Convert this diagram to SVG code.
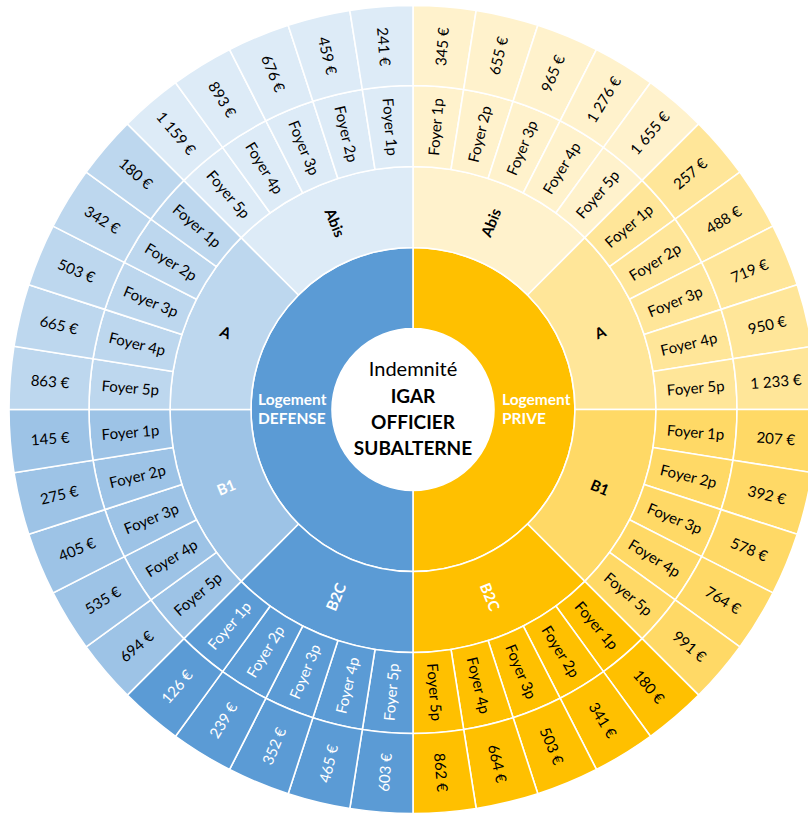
<svg xmlns="http://www.w3.org/2000/svg" xmlns:xlink="http://www.w3.org/1999/xlink" width="808" height="814" viewBox="0 0 808 814">
<style>
.s{stroke:#fff;stroke-width:1.6;stroke-linejoin:round}
.pa{fill:#FFF2CC}.pA{fill:#FFE699}.pB{fill:#FFD966}.pC{fill:#FFC000}
.da{fill:#DDEBF7}.dA{fill:#BDD7EE}.dB{fill:#9DC3E6}.dC{fill:#5B9BD5}
text{font-family:Lato,"Liberation Sans",sans-serif;font-size:15px;fill:#000;text-anchor:middle;dominant-baseline:central}
text.w{fill:#fff}
text.b{font-weight:bold}
text.r1{font-weight:bold;font-size:15.5px;fill:#fff;text-anchor:start;dominant-baseline:alphabetic}
text.c{font-size:20px;dominant-baseline:alphabetic}
text.cb{font-size:19px;font-weight:bold;dominant-baseline:alphabetic}
</style>
<defs>
<path id="half" d="M0,-162 A162,162 0 0 1 0,162 L0,81 A81,81 0 0 0 0,-81 Z"/>
<path id="cat" d="M0,-243 A243,243 0 0 1 171.827,-171.827 L114.551,-114.551 A162,162 0 0 0 0,-162 Z"/>
<path id="leaf" d="M0,-324 A324,324 0 0 1 50.685,-320.011 L38.013,-240.008 A243,243 0 0 0 0,-243 Z"/>
<path id="val" d="M0,-404 A404,404 0 0 1 63.199,-399.026 L50.685,-320.011 A324,324 0 0 0 0,-324 Z"/>
</defs>
<g transform="translate(413 409.5)">
<g id="center"><circle r="81" fill="#fff"/>
<text class="c" y="-33.5">Indemnité</text>
<text class="cb" y="-6.5">IGAR</text>
<text class="cb" y="19.5">OFFICIER</text>
<text class="cb" y="45.5">SUBALTERNE</text></g>
<g id="logement-prive"><use href="#half" class="s pC"/><text class="r1" x="89" y="-4.5">Logement</text><text class="r1" x="89" y="14.5">PRIVE</text></g>
<g id="logement-defense"><use href="#half" class="s dC" transform="rotate(180)"/><text class="r1" x="-155" y="-4.5">Logement</text><text class="r1" x="-155" y="14.5">DEFENSE</text></g>
<g id="prive-abis"><use href="#cat" class="s pa"/><text class="b" transform="rotate(22.5) translate(0 -202.5) rotate(-90)">Abis</text></g>
<g id="prive-a"><use href="#cat" class="s pA" transform="rotate(45)"/><text class="b" transform="rotate(67.5) translate(0 -202.5) rotate(-90)">A</text></g>
<g id="prive-b1"><use href="#cat" class="s pB" transform="rotate(90)"/><text class="b" transform="rotate(112.5) translate(0 -202.5) rotate(-90)">B1</text></g>
<g id="prive-b2c"><use href="#cat" class="s pC" transform="rotate(135)"/><text class="b w" transform="rotate(157.5) translate(0 -202.5) rotate(-90)">B2C</text></g>
<g id="defense-b2c"><use href="#cat" class="s dC" transform="rotate(180)"/><text class="b w" transform="rotate(202.5) translate(0 -202.5) rotate(90)">B2C</text></g>
<g id="defense-b1"><use href="#cat" class="s dB" transform="rotate(225)"/><text class="b w" transform="rotate(247.5) translate(0 -202.5) rotate(90)">B1</text></g>
<g id="defense-a"><use href="#cat" class="s dA" transform="rotate(270)"/><text class="b" transform="rotate(292.5) translate(0 -202.5) rotate(90)">A</text></g>
<g id="defense-abis"><use href="#cat" class="s da" transform="rotate(315)"/><text class="b" transform="rotate(337.5) translate(0 -202.5) rotate(90)">Abis</text></g>

<g id="prive-abis-1p"><use href="#leaf" class="s pa" transform="rotate(0)"/><text transform="rotate(4.5) translate(0 -283.5) rotate(-90)">Foyer 1p</text></g>
<g id="prive-abis-1p-v"><use href="#val" class="s pa" transform="rotate(0)"/><text transform="rotate(4.5) translate(0 -364) rotate(-90)">345 €</text></g>
<g id="prive-abis-2p"><use href="#leaf" class="s pa" transform="rotate(9)"/><text transform="rotate(13.5) translate(0 -283.5) rotate(-90)">Foyer 2p</text></g>
<g id="prive-abis-2p-v"><use href="#val" class="s pa" transform="rotate(9)"/><text transform="rotate(13.5) translate(0 -364) rotate(-90)">655 €</text></g>
<g id="prive-abis-3p"><use href="#leaf" class="s pa" transform="rotate(18)"/><text transform="rotate(22.5) translate(0 -283.5) rotate(-90)">Foyer 3p</text></g>
<g id="prive-abis-3p-v"><use href="#val" class="s pa" transform="rotate(18)"/><text transform="rotate(22.5) translate(0 -364) rotate(-90)">965 €</text></g>
<g id="prive-abis-4p"><use href="#leaf" class="s pa" transform="rotate(27)"/><text transform="rotate(31.5) translate(0 -283.5) rotate(-90)">Foyer 4p</text></g>
<g id="prive-abis-4p-v"><use href="#val" class="s pa" transform="rotate(27)"/><text transform="rotate(31.5) translate(0 -364) rotate(-90)">1 276 €</text></g>
<g id="prive-abis-5p"><use href="#leaf" class="s pa" transform="rotate(36)"/><text transform="rotate(40.5) translate(0 -283.5) rotate(-90)">Foyer 5p</text></g>
<g id="prive-abis-5p-v"><use href="#val" class="s pa" transform="rotate(36)"/><text transform="rotate(40.5) translate(0 -364) rotate(-90)">1 655 €</text></g>

<g id="prive-a-1p"><use href="#leaf" class="s pA" transform="rotate(45)"/><text transform="rotate(49.5) translate(0 -283.5) rotate(-90)">Foyer 1p</text></g>
<g id="prive-a-1p-v"><use href="#val" class="s pA" transform="rotate(45)"/><text transform="rotate(49.5) translate(0 -364) rotate(-90)">257 €</text></g>
<g id="prive-a-2p"><use href="#leaf" class="s pA" transform="rotate(54)"/><text transform="rotate(58.5) translate(0 -283.5) rotate(-90)">Foyer 2p</text></g>
<g id="prive-a-2p-v"><use href="#val" class="s pA" transform="rotate(54)"/><text transform="rotate(58.5) translate(0 -364) rotate(-90)">488 €</text></g>
<g id="prive-a-3p"><use href="#leaf" class="s pA" transform="rotate(63)"/><text transform="rotate(67.5) translate(0 -283.5) rotate(-90)">Foyer 3p</text></g>
<g id="prive-a-3p-v"><use href="#val" class="s pA" transform="rotate(63)"/><text transform="rotate(67.5) translate(0 -364) rotate(-90)">719 €</text></g>
<g id="prive-a-4p"><use href="#leaf" class="s pA" transform="rotate(72)"/><text transform="rotate(76.5) translate(0 -283.5) rotate(-90)">Foyer 4p</text></g>
<g id="prive-a-4p-v"><use href="#val" class="s pA" transform="rotate(72)"/><text transform="rotate(76.5) translate(0 -364) rotate(-90)">950 €</text></g>
<g id="prive-a-5p"><use href="#leaf" class="s pA" transform="rotate(81)"/><text transform="rotate(85.5) translate(0 -283.5) rotate(-90)">Foyer 5p</text></g>
<g id="prive-a-5p-v"><use href="#val" class="s pA" transform="rotate(81)"/><text transform="rotate(85.5) translate(0 -364) rotate(-90)">1 233 €</text></g>

<g id="prive-b1-1p"><use href="#leaf" class="s pB" transform="rotate(90)"/><text transform="rotate(94.5) translate(0 -283.5) rotate(-90)">Foyer 1p</text></g>
<g id="prive-b1-1p-v"><use href="#val" class="s pB" transform="rotate(90)"/><text transform="rotate(94.5) translate(0 -364) rotate(-90)">207 €</text></g>
<g id="prive-b1-2p"><use href="#leaf" class="s pB" transform="rotate(99)"/><text transform="rotate(103.5) translate(0 -283.5) rotate(-90)">Foyer 2p</text></g>
<g id="prive-b1-2p-v"><use href="#val" class="s pB" transform="rotate(99)"/><text transform="rotate(103.5) translate(0 -364) rotate(-90)">392 €</text></g>
<g id="prive-b1-3p"><use href="#leaf" class="s pB" transform="rotate(108)"/><text transform="rotate(112.5) translate(0 -283.5) rotate(-90)">Foyer 3p</text></g>
<g id="prive-b1-3p-v"><use href="#val" class="s pB" transform="rotate(108)"/><text transform="rotate(112.5) translate(0 -364) rotate(-90)">578 €</text></g>
<g id="prive-b1-4p"><use href="#leaf" class="s pB" transform="rotate(117)"/><text transform="rotate(121.5) translate(0 -283.5) rotate(-90)">Foyer 4p</text></g>
<g id="prive-b1-4p-v"><use href="#val" class="s pB" transform="rotate(117)"/><text transform="rotate(121.5) translate(0 -364) rotate(-90)">764 €</text></g>
<g id="prive-b1-5p"><use href="#leaf" class="s pB" transform="rotate(126)"/><text transform="rotate(130.5) translate(0 -283.5) rotate(-90)">Foyer 5p</text></g>
<g id="prive-b1-5p-v"><use href="#val" class="s pB" transform="rotate(126)"/><text transform="rotate(130.5) translate(0 -364) rotate(-90)">991 €</text></g>

<g id="prive-b2c-1p"><use href="#leaf" class="s pC" transform="rotate(135)"/><text transform="rotate(139.5) translate(0 -283.5) rotate(-90)">Foyer 1p</text></g>
<g id="prive-b2c-1p-v"><use href="#val" class="s pC" transform="rotate(135)"/><text transform="rotate(139.5) translate(0 -364) rotate(-90)">180 €</text></g>
<g id="prive-b2c-2p"><use href="#leaf" class="s pC" transform="rotate(144)"/><text transform="rotate(148.5) translate(0 -283.5) rotate(-90)">Foyer 2p</text></g>
<g id="prive-b2c-2p-v"><use href="#val" class="s pC" transform="rotate(144)"/><text transform="rotate(148.5) translate(0 -364) rotate(-90)">341 €</text></g>
<g id="prive-b2c-3p"><use href="#leaf" class="s pC" transform="rotate(153)"/><text transform="rotate(157.5) translate(0 -283.5) rotate(-90)">Foyer 3p</text></g>
<g id="prive-b2c-3p-v"><use href="#val" class="s pC" transform="rotate(153)"/><text transform="rotate(157.5) translate(0 -364) rotate(-90)">503 €</text></g>
<g id="prive-b2c-4p"><use href="#leaf" class="s pC" transform="rotate(162)"/><text transform="rotate(166.5) translate(0 -283.5) rotate(-90)">Foyer 4p</text></g>
<g id="prive-b2c-4p-v"><use href="#val" class="s pC" transform="rotate(162)"/><text transform="rotate(166.5) translate(0 -364) rotate(-90)">664 €</text></g>
<g id="prive-b2c-5p"><use href="#leaf" class="s pC" transform="rotate(171)"/><text transform="rotate(175.5) translate(0 -283.5) rotate(-90)">Foyer 5p</text></g>
<g id="prive-b2c-5p-v"><use href="#val" class="s pC" transform="rotate(171)"/><text transform="rotate(175.5) translate(0 -364) rotate(-90)">862 €</text></g>

<g id="defense-b2c-5p"><use href="#leaf" class="s dC" transform="rotate(180)"/><text class="w" transform="rotate(184.5) translate(0 -283.5) rotate(90)">Foyer 5p</text></g>
<g id="defense-b2c-5p-v"><use href="#val" class="s dC" transform="rotate(180)"/><text class="w" transform="rotate(184.5) translate(0 -364) rotate(90)">603 €</text></g>
<g id="defense-b2c-4p"><use href="#leaf" class="s dC" transform="rotate(189)"/><text class="w" transform="rotate(193.5) translate(0 -283.5) rotate(90)">Foyer 4p</text></g>
<g id="defense-b2c-4p-v"><use href="#val" class="s dC" transform="rotate(189)"/><text class="w" transform="rotate(193.5) translate(0 -364) rotate(90)">465 €</text></g>
<g id="defense-b2c-3p"><use href="#leaf" class="s dC" transform="rotate(198)"/><text class="w" transform="rotate(202.5) translate(0 -283.5) rotate(90)">Foyer 3p</text></g>
<g id="defense-b2c-3p-v"><use href="#val" class="s dC" transform="rotate(198)"/><text class="w" transform="rotate(202.5) translate(0 -364) rotate(90)">352 €</text></g>
<g id="defense-b2c-2p"><use href="#leaf" class="s dC" transform="rotate(207)"/><text class="w" transform="rotate(211.5) translate(0 -283.5) rotate(90)">Foyer 2p</text></g>
<g id="defense-b2c-2p-v"><use href="#val" class="s dC" transform="rotate(207)"/><text class="w" transform="rotate(211.5) translate(0 -364) rotate(90)">239 €</text></g>
<g id="defense-b2c-1p"><use href="#leaf" class="s dC" transform="rotate(216)"/><text class="w" transform="rotate(220.5) translate(0 -283.5) rotate(90)">Foyer 1p</text></g>
<g id="defense-b2c-1p-v"><use href="#val" class="s dC" transform="rotate(216)"/><text class="w" transform="rotate(220.5) translate(0 -364) rotate(90)">126 €</text></g>

<g id="defense-b1-5p"><use href="#leaf" class="s dB" transform="rotate(225)"/><text transform="rotate(229.5) translate(0 -283.5) rotate(90)">Foyer 5p</text></g>
<g id="defense-b1-5p-v"><use href="#val" class="s dB" transform="rotate(225)"/><text transform="rotate(229.5) translate(0 -364) rotate(90)">694 €</text></g>
<g id="defense-b1-4p"><use href="#leaf" class="s dB" transform="rotate(234)"/><text transform="rotate(238.5) translate(0 -283.5) rotate(90)">Foyer 4p</text></g>
<g id="defense-b1-4p-v"><use href="#val" class="s dB" transform="rotate(234)"/><text transform="rotate(238.5) translate(0 -364) rotate(90)">535 €</text></g>
<g id="defense-b1-3p"><use href="#leaf" class="s dB" transform="rotate(243)"/><text transform="rotate(247.5) translate(0 -283.5) rotate(90)">Foyer 3p</text></g>
<g id="defense-b1-3p-v"><use href="#val" class="s dB" transform="rotate(243)"/><text transform="rotate(247.5) translate(0 -364) rotate(90)">405 €</text></g>
<g id="defense-b1-2p"><use href="#leaf" class="s dB" transform="rotate(252)"/><text transform="rotate(256.5) translate(0 -283.5) rotate(90)">Foyer 2p</text></g>
<g id="defense-b1-2p-v"><use href="#val" class="s dB" transform="rotate(252)"/><text transform="rotate(256.5) translate(0 -364) rotate(90)">275 €</text></g>
<g id="defense-b1-1p"><use href="#leaf" class="s dB" transform="rotate(261)"/><text transform="rotate(265.5) translate(0 -283.5) rotate(90)">Foyer 1p</text></g>
<g id="defense-b1-1p-v"><use href="#val" class="s dB" transform="rotate(261)"/><text transform="rotate(265.5) translate(0 -364) rotate(90)">145 €</text></g>

<g id="defense-a-5p"><use href="#leaf" class="s dA" transform="rotate(270)"/><text transform="rotate(274.5) translate(0 -283.5) rotate(90)">Foyer 5p</text></g>
<g id="defense-a-5p-v"><use href="#val" class="s dA" transform="rotate(270)"/><text transform="rotate(274.5) translate(0 -364) rotate(90)">863 €</text></g>
<g id="defense-a-4p"><use href="#leaf" class="s dA" transform="rotate(279)"/><text transform="rotate(283.5) translate(0 -283.5) rotate(90)">Foyer 4p</text></g>
<g id="defense-a-4p-v"><use href="#val" class="s dA" transform="rotate(279)"/><text transform="rotate(283.5) translate(0 -364) rotate(90)">665 €</text></g>
<g id="defense-a-3p"><use href="#leaf" class="s dA" transform="rotate(288)"/><text transform="rotate(292.5) translate(0 -283.5) rotate(90)">Foyer 3p</text></g>
<g id="defense-a-3p-v"><use href="#val" class="s dA" transform="rotate(288)"/><text transform="rotate(292.5) translate(0 -364) rotate(90)">503 €</text></g>
<g id="defense-a-2p"><use href="#leaf" class="s dA" transform="rotate(297)"/><text transform="rotate(301.5) translate(0 -283.5) rotate(90)">Foyer 2p</text></g>
<g id="defense-a-2p-v"><use href="#val" class="s dA" transform="rotate(297)"/><text transform="rotate(301.5) translate(0 -364) rotate(90)">342 €</text></g>
<g id="defense-a-1p"><use href="#leaf" class="s dA" transform="rotate(306)"/><text transform="rotate(310.5) translate(0 -283.5) rotate(90)">Foyer 1p</text></g>
<g id="defense-a-1p-v"><use href="#val" class="s dA" transform="rotate(306)"/><text transform="rotate(310.5) translate(0 -364) rotate(90)">180 €</text></g>

<g id="defense-abis-5p"><use href="#leaf" class="s da" transform="rotate(315)"/><text transform="rotate(319.5) translate(0 -283.5) rotate(90)">Foyer 5p</text></g>
<g id="defense-abis-5p-v"><use href="#val" class="s da" transform="rotate(315)"/><text transform="rotate(319.5) translate(0 -364) rotate(90)">1 159 €</text></g>
<g id="defense-abis-4p"><use href="#leaf" class="s da" transform="rotate(324)"/><text transform="rotate(328.5) translate(0 -283.5) rotate(90)">Foyer 4p</text></g>
<g id="defense-abis-4p-v"><use href="#val" class="s da" transform="rotate(324)"/><text transform="rotate(328.5) translate(0 -364) rotate(90)">893 €</text></g>
<g id="defense-abis-3p"><use href="#leaf" class="s da" transform="rotate(333)"/><text transform="rotate(337.5) translate(0 -283.5) rotate(90)">Foyer 3p</text></g>
<g id="defense-abis-3p-v"><use href="#val" class="s da" transform="rotate(333)"/><text transform="rotate(337.5) translate(0 -364) rotate(90)">676 €</text></g>
<g id="defense-abis-2p"><use href="#leaf" class="s da" transform="rotate(342)"/><text transform="rotate(346.5) translate(0 -283.5) rotate(90)">Foyer 2p</text></g>
<g id="defense-abis-2p-v"><use href="#val" class="s da" transform="rotate(342)"/><text transform="rotate(346.5) translate(0 -364) rotate(90)">459 €</text></g>
<g id="defense-abis-1p"><use href="#leaf" class="s da" transform="rotate(351)"/><text transform="rotate(355.5) translate(0 -283.5) rotate(90)">Foyer 1p</text></g>
<g id="defense-abis-1p-v"><use href="#val" class="s da" transform="rotate(351)"/><text transform="rotate(355.5) translate(0 -364) rotate(90)">241 €</text></g>
</g>
</svg>
